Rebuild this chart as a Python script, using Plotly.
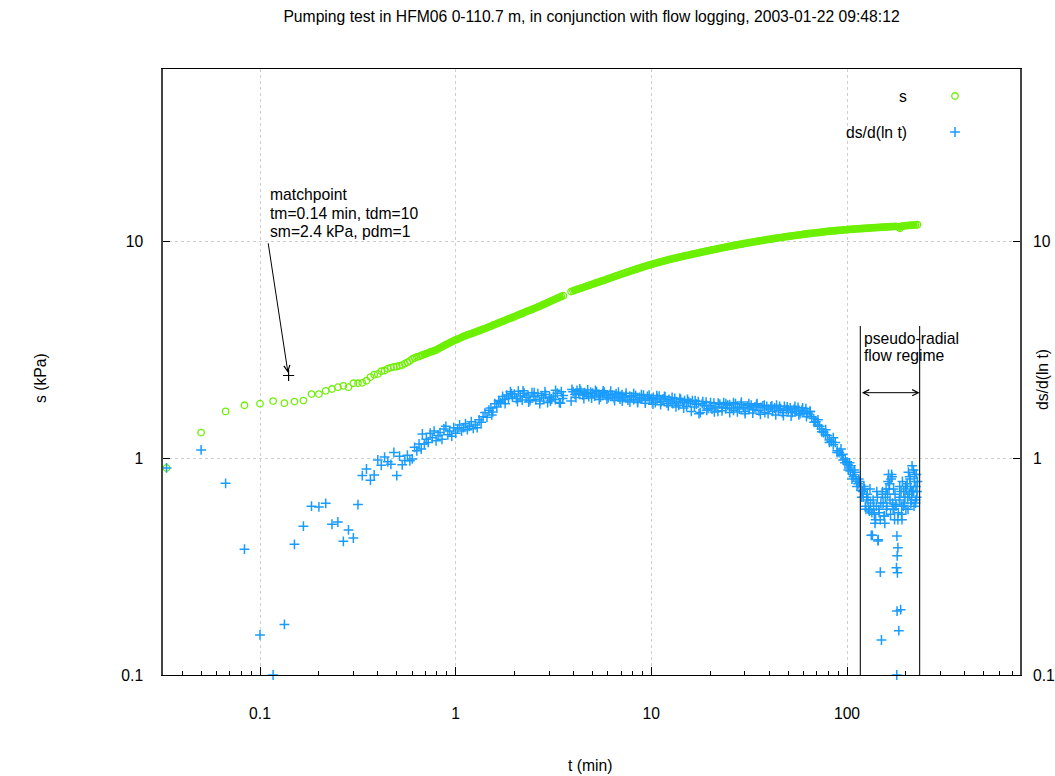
import math
import plotly.graph_objects as go

# ---------------- data ----------------
# early record, one reading per second (t in minutes)
t_early = [0.0333, 0.05, 0.0667, 0.0833, 0.1, 0.1167, 0.1333, 0.15, 0.1667, 0.1833,
           0.2, 0.2167, 0.2333, 0.25, 0.2667, 0.2833, 0.3, 0.3167, 0.3333, 0.35,
           0.3667, 0.3833, 0.4, 0.4167, 0.4333, 0.45, 0.4667, 0.4833, 0.5, 0.5167,
           0.5333, 0.55, 0.5667, 0.5833, 0.6, 0.6167, 0.6333, 0.65, 0.6667]
s_early = [0.90, 1.31, 1.64, 1.75, 1.78, 1.83, 1.79, 1.82, 1.84, 1.97,
           1.97, 2.04, 2.08, 2.12, 2.15, 2.12, 2.21, 2.21, 2.22, 2.27,
           2.36, 2.42, 2.44, 2.51, 2.53, 2.58, 2.61, 2.63, 2.64, 2.66,
           2.68, 2.72, 2.76, 2.80, 2.86, 2.89, 2.92, 2.94, 2.97]
ds_early = [0.90, 1.09, 0.764, 0.38, 0.153, 0.10, 0.171, 0.40, 0.485, 0.60,
            0.595, 0.618, 0.495, 0.507, 0.413, 0.466, 0.428, 0.61, 0.83, 0.89,
            0.79, 0.835, 0.98, 0.925, 1.01, 0.96, 0.935, 1.06, 0.83, 1.02,
            0.93, 0.975, 1.03, 0.97, 0.99, 1.12, 1.08, 1.16, 1.10]

# later record
t_late = [
    0.676, 0.692, 0.708, 0.724, 0.741, 0.759, 0.776, 0.794, 0.813, 0.832, 0.851, 0.871, 0.891, 0.912, 0.933, 0.955, 0.977,
    1.000, 1.023, 1.047, 1.072, 1.096, 1.122, 1.148, 1.175, 1.202, 1.230,
    1.259, 1.288, 1.318, 1.349, 1.380, 1.413, 1.445, 1.479, 1.514, 1.549,
    1.585, 1.622, 1.660, 1.698, 1.738, 1.778, 1.820, 1.862, 1.905, 1.950,
    1.995, 2.042, 2.089, 2.138, 2.188, 2.239, 2.291, 2.344, 2.399, 2.455,
    2.512, 2.570, 2.630, 2.692, 2.754, 2.818, 2.884, 2.951, 3.020, 3.090,
    3.162, 3.236, 3.311, 3.388, 3.467, 3.548,
    3.890, 3.981, 4.074, 4.169, 4.266, 4.365, 4.467, 4.571, 4.677, 4.786, 4.898,
    5.012, 5.129, 5.248, 5.370, 5.495, 5.623, 5.754, 5.888, 6.026, 6.166,
    6.310, 6.457, 6.607, 6.761, 6.918, 7.079, 7.244, 7.413, 7.586, 7.762,
    7.943, 8.128, 8.318, 8.511, 8.710, 8.913, 9.120, 9.333, 9.550, 9.772,
    10.00, 10.23, 10.47, 10.72, 10.96, 11.22, 11.48, 11.75, 12.02, 12.30,
    12.59, 12.88, 13.18, 13.49, 13.80, 14.13, 14.45, 14.79, 15.14, 15.49,
    15.85, 16.22, 16.60, 16.98, 17.38, 17.78, 18.20, 18.62, 19.05, 19.50,
    19.95, 20.42, 20.89, 21.38, 21.88, 22.39, 22.91, 23.44, 23.99, 24.55,
    25.12, 25.70, 26.30, 26.92, 27.54, 28.18, 28.84, 29.51, 30.20, 30.90,
    31.62, 32.36, 33.11, 33.88, 34.67, 35.48, 36.31, 37.15, 38.02, 38.90,
    39.81, 40.74, 41.69, 42.66, 43.65, 44.67, 45.71, 46.77, 47.86, 48.98,
    50.12, 51.29, 52.48, 53.70, 54.95, 56.23, 57.54, 58.88, 60.26, 61.66,
    63.10, 64.57, 66.07, 67.61, 69.18, 70.79, 72.44, 74.13, 75.86, 77.62,
    79.43, 81.28, 83.18, 85.11, 87.10, 89.13, 91.20, 93.33, 95.50, 97.72,
    100.0, 102.3, 104.7, 107.2, 109.6, 112.2, 114.8, 117.5, 120.2, 123.0,
    125.9, 128.8, 131.8, 134.9, 138.0, 141.3, 144.5, 147.9, 151.4, 154.9,
    158.5, 162.2, 166.0, 169.8, 173.8, 177.8, 182.0, 186.2, 190.5, 195.0,
    199.5, 204.2, 208.9, 213.8, 218.8, 223.9, 229.1,
]
s_late = [
    2.98, 3.00, 3.03, 3.05, 3.08, 3.10, 3.12, 3.14, 3.18, 3.22, 3.25, 3.29, 3.33, 3.36, 3.40, 3.43, 3.47,
    3.50, 3.53, 3.56, 3.60, 3.63, 3.66, 3.69, 3.72, 3.74, 3.77,
    3.80, 3.83, 3.86, 3.89, 3.92, 3.95, 3.98, 4.02, 4.05, 4.09,
    4.12, 4.16, 4.19, 4.23, 4.26, 4.30, 4.34, 4.37, 4.41, 4.44,
    4.48, 4.52, 4.56, 4.60, 4.64, 4.68, 4.72, 4.76, 4.80, 4.84,
    4.88, 4.92, 4.97, 5.01, 5.06, 5.10, 5.15, 5.20, 5.25, 5.30,
    5.35, 5.40, 5.45, 5.50, 5.55, 5.60,
    5.85, 5.89, 5.94, 5.98, 6.02, 6.06, 6.10, 6.15, 6.19, 6.24, 6.28,
    6.33, 6.37, 6.42, 6.46, 6.51, 6.55, 6.60, 6.65, 6.70, 6.75,
    6.80, 6.85, 6.90, 6.95, 7.00, 7.05, 7.10, 7.15, 7.20, 7.25,
    7.30, 7.35, 7.40, 7.45, 7.50, 7.55, 7.60, 7.65, 7.70, 7.75,
    7.80, 7.84, 7.89, 7.93, 7.98, 8.02, 8.07, 8.11, 8.16, 8.20,
    8.25, 8.29, 8.33, 8.37, 8.41, 8.45, 8.49, 8.53, 8.57, 8.61,
    8.65, 8.69, 8.73, 8.77, 8.81, 8.85, 8.89, 8.93, 8.97, 9.01,
    9.05, 9.09, 9.13, 9.17, 9.21, 9.25, 9.29, 9.33, 9.37, 9.41,
    9.45, 9.49, 9.52, 9.56, 9.60, 9.64, 9.67, 9.71, 9.75, 9.78,
    9.82, 9.86, 9.89, 9.93, 9.96, 10.00, 10.03, 10.07, 10.10, 10.14,
    10.17, 10.20, 10.24, 10.27, 10.30, 10.34, 10.37, 10.40, 10.44, 10.47,
    10.50, 10.53, 10.56, 10.59, 10.62, 10.65, 10.68, 10.71, 10.74, 10.77,
    10.80, 10.83, 10.85, 10.88, 10.91, 10.93, 10.96, 10.99, 11.01, 11.04,
    11.07, 11.09, 11.11, 11.13, 11.15, 11.18, 11.20, 11.22, 11.24, 11.26,
    11.28, 11.30, 11.32, 11.33, 11.35, 11.37, 11.38, 11.40, 11.42, 11.43,
    11.45, 11.47, 11.48, 11.50, 11.51, 11.53, 11.54, 11.56, 11.57, 11.59,
    11.60, 11.62, 11.63, 11.65, 11.66, 11.68, 11.62, 11.45, 11.70, 11.72,
    11.76, 11.78, 11.80, 11.82, 11.84, 11.86, 11.88,
]
ds_late = [
    1.29, 1.16, 1.22, 1.18, 1.30, 1.24, 1.33, 1.20, 1.27, 1.31, 1.22, 1.36, 1.40, 1.28, 1.33, 1.26, 1.38,
    1.30, 1.36, 1.42, 1.33, 1.38, 1.44, 1.35, 1.40, 1.47, 1.37,
    1.42, 1.38, 1.50, 1.46, 1.55, 1.62, 1.54, 1.66, 1.70, 1.63,
    1.78, 1.72, 1.84, 1.80, 1.92, 1.86, 1.95, 1.88, 2.02, 1.91,
    1.97, 1.88, 2.03, 1.93, 1.85, 1.99, 1.90, 1.95, 1.84, 2.00,
    1.92, 1.86, 1.98, 1.83, 1.94, 1.89, 1.96, 1.80, 1.91, 1.87,
    1.93, 1.86, 1.99, 1.80, 2.02, 1.94,
    1.83, 2.02, 1.96, 2.05, 1.98, 2.03, 1.95, 2.00, 1.97, 1.92, 2.01,
    1.99, 1.93, 2.02, 1.95, 1.91, 1.98, 2.01, 1.94, 1.90, 1.97,
    1.95, 1.89, 1.98, 1.92, 1.87, 1.96, 1.90, 1.94, 1.85, 1.93,
    1.91, 1.86, 1.94, 1.83, 1.90, 1.87, 1.95, 1.84, 1.92, 1.88,
    1.85, 1.90, 1.80, 1.88, 1.93, 1.82, 1.87, 1.91, 1.79, 1.86,
    1.83, 1.78, 1.88, 1.81, 1.75, 1.86, 1.80, 1.84, 1.73, 1.82,
    1.79, 1.84, 1.72, 1.77, 1.82, 1.62, 1.78, 1.74, 1.81, 1.69,
    1.74, 1.68, 1.79, 1.72, 1.64, 1.77, 1.71, 1.80, 1.69, 1.75,
    1.76, 1.70, 1.66, 1.78, 1.72, 1.68, 1.81, 1.71, 1.64, 1.74,
    1.70, 1.75, 1.67, 1.72, 1.78, 1.65, 1.71, 1.74, 1.62, 1.73,
    1.68, 1.72, 1.64, 1.70, 1.75, 1.66, 1.69, 1.62, 1.73, 1.67,
    1.66, 1.70, 1.62, 1.68, 1.64, 1.71, 1.60, 1.66, 1.63, 1.69,
    1.60, 1.64, 1.55, 1.52, 1.47, 1.42, 1.40, 1.36, 1.31, 1.28,
    1.27, 1.21, 1.19, 1.15, 1.18, 1.08, 1.06, 1.03, 0.98, 0.95,
    0.96, 0.90, 0.92, 0.84, 0.86, 0.78, 0.80, 0.74, 0.70, 0.72,
    0.66, 0.58, 0.62, 0.44, 0.55, 0.60, 0.42, 0.52, 0.68, 0.54,
    0.72, 0.78, 0.64, 0.82, 0.58, 0.61, 0.52, 0.66, 0.60, 0.70,
    0.74, 0.66, 0.82, 0.70, 0.88, 0.64, 0.78,
]
# further derivative readings (plateau and late, scattered part)
t_ds_plateau = [
    1.53, 1.66, 1.79, 1.93, 2.07, 2.21, 2.36, 2.52, 2.69, 2.86,
    3.05, 3.24, 3.43, 3.52, 3.93, 4.12, 4.31, 4.52, 4.73, 4.95,
    5.18, 5.42, 5.67, 5.93, 6.20, 6.49, 6.79, 7.10, 7.43, 7.77,
    8.13, 8.51, 8.90, 9.31, 9.74, 10.19, 10.66, 11.15, 11.67, 12.21,
    12.77, 13.36, 13.98, 14.63, 15.30, 16.01, 16.75, 17.52, 18.33, 19.18,
    20.07, 21.00, 21.97, 22.98, 24.04, 25.15, 26.31, 27.53, 28.80, 30.13,
    31.52, 32.98, 34.50, 36.10, 37.76, 39.51, 41.33, 43.24, 45.24, 47.33,
    49.51, 51.80, 54.19, 56.70, 59.31, 62.05, 64.92, 67.92, 71.05, 74.34,
    77.77, 81.36, 85.12, 89.05, 93.16,
]
ds_plateau = [
    1.58, 1.82, 1.78, 1.98, 1.82, 2.04, 1.81, 2.00, 1.78, 2.02,
    1.83, 2.05, 1.79, 1.88, 2.07, 1.90, 2.08, 1.88, 2.06, 1.89,
    2.05, 1.86, 2.04, 1.87, 2.03, 1.84, 2.01, 1.83, 1.99, 1.81,
    1.98, 1.80, 1.96, 1.79, 1.95, 1.77, 1.94, 1.76, 1.92, 1.74,
    1.90, 1.72, 1.88, 1.70, 1.86, 1.64, 1.84, 1.60, 1.82, 1.66,
    1.80, 1.63, 1.79, 1.65, 1.78, 1.62, 1.80, 1.63, 1.77, 1.60,
    1.78, 1.61, 1.76, 1.59, 1.75, 1.60, 1.74, 1.58, 1.73, 1.57,
    1.72, 1.56, 1.73, 1.58, 1.70, 1.55, 1.64, 1.46, 1.50, 1.32,
    1.35, 1.18, 1.24, 1.06, 1.10,
]
t_ds_tail = [95, 98, 101, 104, 108, 111, 114, 118, 121, 124, 127, 130, 133, 136, 139,
             142, 144, 146, 148, 150, 153, 156, 159, 161, 163, 165, 167, 169, 171, 173,
             175, 178, 179, 180, 180.5, 181, 180.2, 179.6, 182, 184, 188, 186, 190, 192,
             196, 200, 203, 206, 210, 212, 215, 217, 220, 222, 225, 227,
             101.5, 103, 106, 109, 112.5, 116, 119, 122, 125, 128,
             131, 134, 137, 140, 143, 145.5, 149, 152, 155, 157,
             160, 164, 168, 172, 176, 183, 185, 189, 191, 194,
             198, 201, 205, 208, 211, 214, 219, 221, 224, 226, 228]
ds_tail = [1.04, 0.99, 0.93, 0.87, 0.82, 0.80, 0.76, 0.71, 0.66, 0.60, 0.68, 0.57, 0.44, 0.64, 0.50,
           0.70, 0.415, 0.56, 0.298, 0.145, 0.62, 0.50, 0.58, 0.68, 0.84, 0.76, 0.55, 0.84, 0.62, 0.72,
           0.52, 0.60, 0.312, 0.437, 0.354, 0.296, 0.197, 0.10, 0.386, 0.16, 0.20, 0.74, 0.55, 0.78,
           0.62, 0.58, 0.76, 0.86, 0.80, 0.62, 0.92, 0.70, 0.60, 0.84, 0.74, 0.66,
           0.88, 0.95, 0.80, 0.88, 0.74, 0.78, 0.66, 0.74, 0.58, 0.64,
           0.72, 0.56, 0.60, 0.52, 0.66, 0.58, 0.62, 0.70, 0.54, 0.66,
           0.60, 0.72, 0.80, 0.58, 0.68, 0.56, 0.64, 0.70, 0.52, 0.60,
           0.66, 0.72, 0.58, 0.68, 0.74, 0.64, 0.70, 0.78, 0.62, 0.84, 0.70]

match_t = [0.14]      # tm (min)
match_s = [2.4]       # sm (kPa)
regime_t = [117, 235]  # pseudo-radial flow regime bounds (min)
regime_top = 4.06
regime_arrow_level = 2.0

title = "Pumping test in HFM06 0-110.7 m, in conjunction with flow logging, 2003-01-22 09:48:12"

# ---------------- figure ----------------
GREEN = "#6cf000"
BLUE = "#1a9cff"
FONT = "Liberation Sans, Arial, Helvetica, sans-serif"
FS = 15.7

W, H = 1055, 776
PL, PR, PT, PB = 163, 1020, 69, 675   # plot area in window pixels


def px(x):
    return (x - PL) / (PR - PL)


def py(y):
    return (PB - y) / (PB - PT)


t_s = t_early + t_late
s_all = s_early + s_late
t_ds = t_early + t_late + t_ds_plateau + t_ds_tail
ds_all = ds_early + ds_late + ds_plateau + ds_tail

# dense part of s drawn as a band, broken where the record has a gap
band_t, band_s = [], []
for i, (tt, ss) in enumerate(zip(t_late, s_late)):
    if i > 0 and tt / t_late[i - 1] > 1.05:
        band_t.append(None)
        band_s.append(None)
    band_t.append(tt)
    band_s.append(ss)

fig = go.Figure()

fig.add_trace(go.Scatter(
    x=band_t, y=band_s, mode="lines", showlegend=False, hoverinfo="skip",
    line=dict(color=GREEN, width=4.5),
))
fig.add_trace(go.Scatter(
    x=t_s, y=s_all, mode="markers", showlegend=False, hoverinfo="skip",
    marker=dict(symbol="circle-open", size=6.5, color=GREEN, line=dict(width=1.3, color=GREEN)),
))
fig.add_trace(go.Scatter(
    x=t_ds, y=ds_all, mode="markers", showlegend=False, hoverinfo="skip", cliponaxis=False,
    marker=dict(symbol="cross-thin", size=7, color=BLUE, line=dict(width=1.5, color=BLUE)),
))
# regime bounds
fig.add_trace(go.Scatter(
    x=[regime_t[0], regime_t[0], None, regime_t[1], regime_t[1]],
    y=[0.1, regime_top, None, 0.1, regime_top],
    mode="lines", line=dict(color="#222", width=1.2), showlegend=False, hoverinfo="skip",
))
# matchpoint marker
fig.add_trace(go.Scatter(
    x=match_t, y=match_s, mode="markers", showlegend=False, hoverinfo="skip",
    marker=dict(symbol="cross-thin", size=8, color="#000", line=dict(width=1.2, color="#000")),
))
# right axis carrier
fig.add_trace(go.Scatter(x=[None], y=[None], yaxis="y2", showlegend=False, hoverinfo="skip"))
# legend glyphs (overlay axes spanning the plot area)
fig.add_trace(go.Scatter(
    x=[px(955)], y=[py(96)], xaxis="x2", yaxis="y3", mode="markers", showlegend=False, hoverinfo="skip",
    marker=dict(symbol="circle-open", size=6.5, color=GREEN, line=dict(width=1.3, color=GREEN)),
))
fig.add_trace(go.Scatter(
    x=[px(955)], y=[py(132)], xaxis="x2", yaxis="y3", mode="markers", showlegend=False, hoverinfo="skip",
    marker=dict(symbol="cross-thin", size=7, color=BLUE, line=dict(width=1.5, color=BLUE)),
))

xr = [-1 - (260 - 163) / 195.67, 2 + (1020 - 847) / 195.67]
yr = [-1, 1 + (241 - 69) / 217.0]

minor_x = [0.04, 0.05, 0.06, 0.07, 0.08, 0.09,
           0.2, 0.3, 0.4, 0.5, 0.6, 0.7, 0.8, 0.9,
           2, 3, 4, 5, 6, 7, 8, 9,
           20, 30, 40, 50, 60, 70, 80, 90,
           200, 300, 400, 500, 600, 700]

GRID = "#cfcfcf"
fig.update_layout(
    width=W, height=H,
    margin=dict(l=PL, r=W - PR, t=PT, b=H - PB, autoexpand=False),
    paper_bgcolor="white", plot_bgcolor="white",
    font=dict(family=FONT, size=FS, color="#000"),
    showlegend=False,
    title=dict(text=title, x=0.5, xref="paper", xanchor="center",
               y=1 - 17 / H, yref="container", yanchor="middle",
               font=dict(family=FONT, size=FS, color="#000")),
    xaxis=dict(
        type="log", range=xr, tickvals=[0.1, 1, 10, 100], ticktext=["0.1", "1", "10", "100"],
        ticks="inside", ticklen=8, tickcolor="#000", tickwidth=1,
        showline=True, linecolor="#000", linewidth=1, mirror=True,
        showgrid=True, gridcolor=GRID, griddash="dot", gridwidth=1,
        zeroline=False, ticklabelstandoff=24, automargin=False,
        tickfont=dict(family=FONT, size=FS, color="#000"),
        minor=dict(tickvals=minor_x, ticks="inside", ticklen=4, tickcolor="#000", showgrid=False),
    ),
    yaxis=dict(
        type="log", range=yr, tickvals=[0.1, 1, 10], ticktext=["0.1", "1", "10"],
        ticks="inside", ticklen=7, tickcolor="#000",
        showline=True, linecolor="#444", linewidth=1.5, mirror=True,
        showgrid=True, gridcolor=GRID, griddash="dot", gridwidth=1,
        zeroline=False, ticklabelstandoff=15, automargin=False,
        tickfont=dict(family=FONT, size=FS, color="#000"),
    ),
    yaxis2=dict(
        type="log", range=yr, overlaying="y", side="right", anchor="x",
        tickvals=[0.1, 1, 10], ticktext=["0.1", "1", "10"],
        ticks="inside", ticklen=7, tickcolor="#000",
        showline=False, showgrid=False, zeroline=False, ticklabelstandoff=12, automargin=False,
        tickfont=dict(family=FONT, size=FS, color="#000"),
    ),
    xaxis2=dict(overlaying="x", range=[0, 1], visible=False, automargin=False),
    yaxis3=dict(overlaying="y", range=[0, 1], visible=False, automargin=False),
)

ann = []


def text(x, y, s, xanchor="left", angle=0):
    ann.append(dict(x=px(x), y=py(y), xref="paper", yref="paper", text=s, showarrow=False,
                    xanchor=xanchor, yanchor="middle", textangle=angle,
                    font=dict(family=FONT, size=FS, color="#000")))


text(268, 195, "matchpoint")
text(268, 213, "tm=0.14 min, tdm=10")
text(268, 231, "sm=2.4 kPa, pdm=1")
text(862, 339, "pseudo-radial")
text(862, 355, "flow regime")
text(909, 96, "s", xanchor="right")
text(909, 132, "ds/d(ln t)", xanchor="right")
text(590, 765, "t (min)", xanchor="center")
text(40, 378, "s (kPa)", xanchor="center", angle=-90)
text(1043, 380, "ds/d(ln t)", xanchor="center", angle=-90)

# matchpoint arrow
ann.append(dict(x=math.log10(0.139), y=math.log10(2.47), xref="x", yref="y", text="",
                showarrow=True, ax=-20, ay=-131, arrowhead=5, arrowsize=1.2, arrowwidth=1,
                arrowcolor="#000"))
# regime double arrow
ann.append(dict(x=math.log10(regime_t[1]), y=math.log10(regime_arrow_level), xref="x", yref="y",
                ax=math.log10(regime_t[0]), ay=math.log10(regime_arrow_level), axref="x", ayref="y",
                text="", showarrow=True, arrowside="end+start", arrowhead=5, startarrowhead=5,
                arrowsize=1.2, startarrowsize=1.2, arrowwidth=1, arrowcolor="#000"))

fig.update_layout(annotations=ann)

# place the figure at the page origin (no default body margin)
fig.write_html("out.html",
               config={"displayModeBar": False},
               post_script="document.body.style.margin='0';document.body.style.overflow='hidden';")
